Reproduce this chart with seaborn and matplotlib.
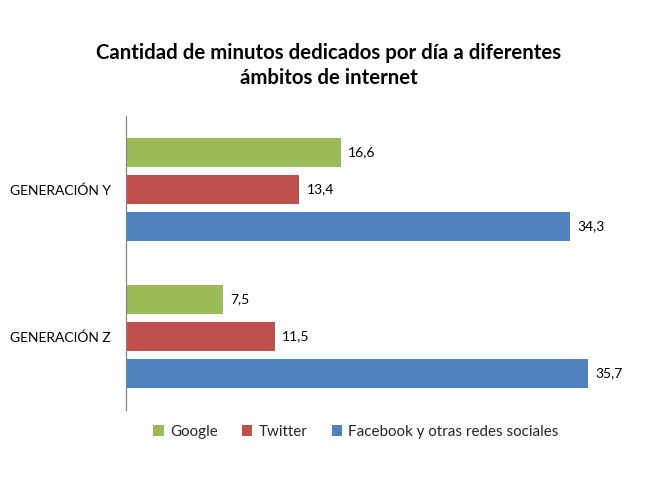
import matplotlib
matplotlib.use("Agg")
import matplotlib.pyplot as plt
import pandas as pd
import seaborn as sns

# data
groups = ["GENERACIÓN Y", "GENERACIÓN Z"]
series = ["Google", "Twitter", "Facebook y otras redes sociales"]
google = [16.6, 7.5]
twitter = [13.4, 11.5]
facebook = [34.3, 35.7]

COLORS = ["#9BBB59", "#C0504D", "#4F81BD"]
TEXT = "#000000"

rows = []
for name, vals in zip(series, [google, twitter, facebook]):
    for g, v in zip(groups, vals):
        rows.append({"grupo": g, "serie": name, "minutos": v})
df = pd.DataFrame(rows)

sns.set_theme(style="white")
plt.rcParams["font.family"] = ["Lato", "DejaVu Sans"]

fig = plt.figure(figsize=(6.58, 4.93), dpi=100, facecolor="white")
ax = fig.add_axes([0.1915, 0.1684, 0.787, 0.5963])

sns.barplot(data=df, y="grupo", x="minutos", hue="serie", order=groups,
            hue_order=series, palette=COLORS, orient="h", width=0.755,
            gap=0.2, saturation=1, ax=ax, legend=True, edgecolor="none")

for cont in ax.containers:
    ax.bar_label(cont, labels=[f"{v:.1f}".replace(".", ",") for v in cont.datavalues],
                 padding=5, fontsize=10, color=TEXT)

ax.set_xlim(0, 40)
ax.set_ylim(1.5, -0.5)
ax.set_xlabel("")
ax.set_ylabel("")
ax.set_xticks([])
ax.tick_params(axis="y", length=0, labelsize=10, pad=11, colors=TEXT)
for sp in ["top", "right", "bottom"]:
    ax.spines[sp].set_visible(False)
ax.spines["left"].set_color("#868686")
ax.spines["left"].set_linewidth(0.9)

ax.legend(loc="center", bbox_to_anchor=(0.444, -0.075), ncol=3, frameon=False,
          fontsize=10.9, handlelength=0.7, handleheight=0.7, handletextpad=0.4,
          columnspacing=1.6)

fig.text(0.5, 0.893, "Cantidad de minutos dedicados por día a diferentes",
         ha="center", va="center", fontsize=14.7, fontweight="bold", color=TEXT)
fig.text(0.5, 0.842, "ámbitos de internet",
         ha="center", va="center", fontsize=14.7, fontweight="bold", color=TEXT)

fig.savefig("out.png", dpi=100, facecolor="white")
